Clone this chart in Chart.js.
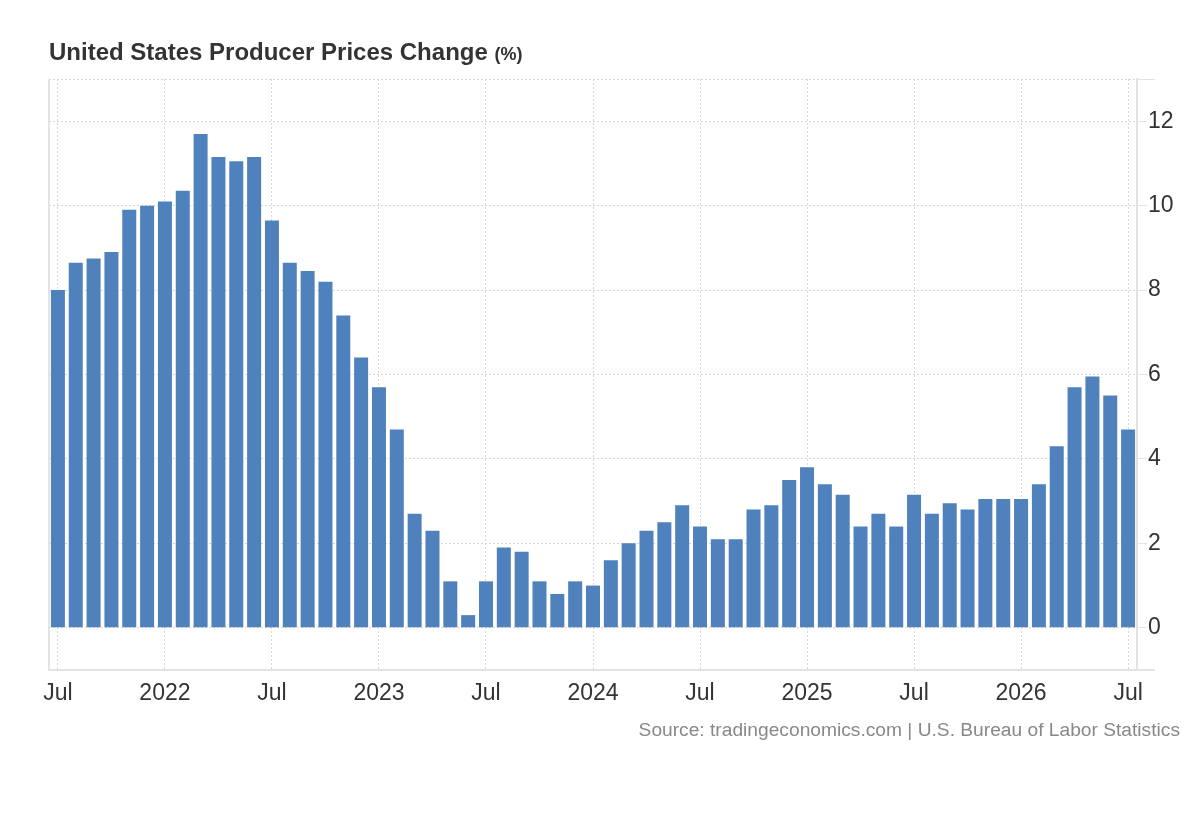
<!DOCTYPE html>
<html>
<head>
<meta charset="utf-8">
<script src="https://cdn.jsdelivr.net/npm/chart.js@4.4.1/dist/chart.umd.min.js"></script>
<style>
  html, body { margin: 0; padding: 0; background: #fff; }
  #wrap { position: relative; width: 1200px; height: 820px; overflow: hidden; }
  #c { position: absolute; left: 0; top: 0; }
  #title { position: absolute; left: 49px; top: 38px; font-family: "Liberation Sans", Arial, Helvetica, sans-serif; font-weight: bold; font-size: 24px; color: #333; white-space: nowrap; }
  #title .unit { font-size: 18px; }
  #source { position: absolute; right: 20px; top: 719px; font-family: "Liberation Sans", Arial, Helvetica, sans-serif; font-size: 19.2px; color: #888; white-space: nowrap; }
</style>
</head>
<body>
<div id="wrap">
  <canvas id="c" width="1200" height="820"></canvas>
  <div id="title">United States Producer Prices Change <span class="unit">(%)</span></div>
  <div id="source">Source: tradingeconomics.com | U.S. Bureau of Labor Statistics</div>
</div>
<script>
const categories = [
  '2021-07','2021-08','2021-09','2021-10','2021-11','2021-12',
  '2022-01','2022-02','2022-03','2022-04','2022-05','2022-06',
  '2022-07','2022-08','2022-09','2022-10','2022-11','2022-12',
  '2023-01','2023-02','2023-03','2023-04','2023-05','2023-06',
  '2023-07','2023-08','2023-09','2023-10','2023-11','2023-12',
  '2024-01','2024-02','2024-03','2024-04','2024-05','2024-06',
  '2024-07','2024-08','2024-09','2024-10','2024-11','2024-12',
  '2025-01','2025-02','2025-03','2025-04','2025-05','2025-06',
  '2025-07','2025-08','2025-09','2025-10','2025-11','2025-12',
  '2026-01','2026-02','2026-03','2026-04','2026-05','2026-06',
  '2026-07'
];
const ppiChange = [
  8.0, 8.65, 8.75, 8.9, 9.9, 10.0,
  10.1, 10.35, 11.7, 11.15, 11.05, 11.15,
  9.65, 8.65, 8.45, 8.2, 7.4, 6.4,
  5.7, 4.7, 2.7, 2.3, 1.1, 0.3,
  1.1, 1.9, 1.8, 1.1, 0.8, 1.1,
  1.0, 1.6, 2.0, 2.3, 2.5, 2.9,
  2.4, 2.1, 2.1, 2.8, 2.9, 3.5,
  3.8, 3.4, 3.15, 2.4, 2.7, 2.4,
  3.15, 2.7, 2.95, 2.8, 3.05, 3.05,
  3.05, 3.4, 4.3, 5.7, 5.95, 5.5,
  4.7
];
const yMin = -1;
const yMax = 13;
const yTickValues = [0, 2, 4, 6, 8, 10, 12];
const monthTickLabels = { '01': null, '07': 'Jul' };  // null => show year

const BAR_COLOR = '#4f81bd';
const GRID_COLOR = '#d6d6d6';
const AXIS_COLOR = '#e3e3e3';
const TEXT_COLOR = '#333333';
const FONT = '"Liberation Sans", Arial, Helvetica, sans-serif';

function xLabel(i) {
  const [yr, mo] = categories[i].split('-');
  if (!(mo in monthTickLabels)) return '';
  return monthTickLabels[mo] === null ? yr : monthTickLabels[mo];
}

const framePlugin = {
  id: 'frame',
  afterDraw(chart) {
    const { ctx, chartArea } = chart;
    const y = chart.scales.y;
    const ext = 18;
    ctx.save();
    ctx.strokeStyle = AXIS_COLOR;
    ctx.lineWidth = 2;
    ctx.beginPath();
    ctx.moveTo(chartArea.left, y.getPixelForValue(yMax));
    ctx.lineTo(chartArea.left, y.getPixelForValue(yMin));
    const top = Math.round(y.getPixelForValue(yMax)) + 0.5;
    const bot = y.getPixelForValue(yMin);
    ctx.moveTo(chartArea.right, bot);
    ctx.lineTo(chartArea.right + ext, bot);
    ctx.stroke();
    ctx.lineWidth = 1;
    ctx.beginPath();
    ctx.moveTo(chartArea.right, top);
    ctx.lineTo(chartArea.right + ext, top);
    ctx.stroke();
    ctx.restore();
  }
};

new Chart(document.getElementById('c'), {
  type: 'bar',
  data: {
    labels: categories,
    datasets: [{
      data: ppiChange,
      backgroundColor: BAR_COLOR,
      borderWidth: 0,
      barPercentage: 0.785,
      categoryPercentage: 1.0
    }]
  },
  options: {
    responsive: false,
    animation: false,
    devicePixelRatio: 1,
    layout: { padding: { left: 49, top: 79, right: 0, bottom: 110 } },
    plugins: { legend: { display: false }, tooltip: { enabled: false }, title: { display: false } },
    scales: {
      x: {
        type: 'category',
        offset: true,
        grid: {
          offset: false,
          drawTicks: false,
          lineWidth: 1,
          color: (c) => (c.index !== undefined && xLabel(c.index) !== '') ? GRID_COLOR : 'rgba(0,0,0,0)'
        },
        border: { display: true, color: AXIS_COLOR, width: 2, dash: [2, 2] },
        ticks: {
          autoSkip: false,
          maxRotation: 0,
          minRotation: 0,
          padding: 10,
          color: TEXT_COLOR,
          font: { family: FONT, size: 23 },
          callback: (v, i) => xLabel(i)
        },
        afterFit: (s) => { s.height = 40; }
      },
      y: {
        position: 'right',
        min: yMin,
        max: yMax,
        afterBuildTicks: (s) => {
          s.ticks = [yMin].concat(yTickValues, [yMax]).map(v => ({ value: v }));
        },
        grid: {
          drawTicks: true,
          tickLength: 10,
          lineWidth: 1,
          color: (c) => (c.tick && c.tick.value === yMin) ? 'rgba(0,0,0,0)' : GRID_COLOR,
          tickColor: (c) => (c.tick && (c.tick.value === yMin || c.tick.value === yMax)) ? 'rgba(0,0,0,0)' : AXIS_COLOR,
          tickWidth: 1
        },
        border: { display: true, color: AXIS_COLOR, width: 2, dash: [2, 2] },
        ticks: {
          padding: 1,
          color: TEXT_COLOR,
          font: { family: FONT, size: 23 },
          callback: (v) => (v === yMin || v === yMax) ? '' : String(v)
        },
        afterFit: (s) => { s.width = 63; }
      }
    }
  },
  plugins: [framePlugin]
});
</script>
</body>
</html>
